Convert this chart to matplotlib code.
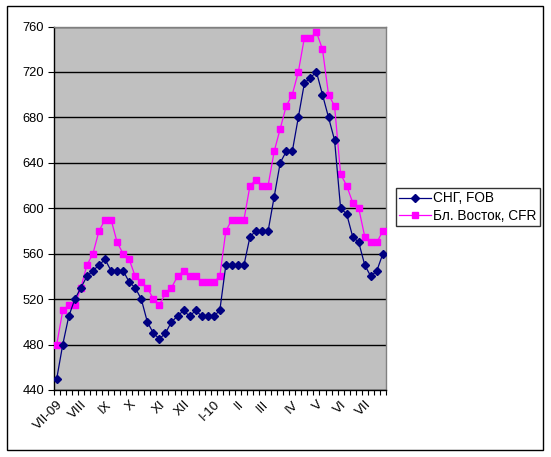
import matplotlib
matplotlib.use('Agg')
from matplotlib import pyplot as plt
from matplotlib.patches import Rectangle
from matplotlib.transforms import ScaledTranslation
import numpy as np

# weekly prices, Jul 2009 - Jul 2010
cis_fob = [450, 480, 505, 520, 530, 540, 545, 550, 555, 545, 545, 545,
           535, 530, 520, 500, 490, 485, 490, 500, 505, 510, 505, 510,
           505, 505, 505, 510, 550, 550, 550, 550, 575, 580, 580, 580,
           610, 640, 650, 650, 680, 710, 715, 720, 700, 680, 660, 600,
           595, 575, 570, 550, 540, 545, 560]
me_cfr = [480, 510, 515, 515, 530, 550, 560, 580, 590, 590, 570, 560,
          555, 540, 535, 530, 520, 515, 525, 530, 540, 545, 540, 540,
          535, 535, 535, 540, 580, 590, 590, 590, 620, 625, 620, 620,
          650, 670, 690, 700, 720, 750, 750, 755, 740, 700, 690, 630,
          620, 605, 600, 575, 570, 570, 580]
month_pos = [0, 4, 8, 12, 17, 21, 26, 30, 34, 39, 43, 47, 51]
month_labels = ['VII-09', 'VIII', 'IX', 'X', 'XI', 'XII', 'I-10',
                'II', 'III', 'IV', 'V', 'VI', 'VII']

plt.rcParams['font.family'] = ['Liberation Sans', 'DejaVu Sans']

fig = plt.figure(figsize=(5.51, 4.57), dpi=100)
fig.patches.append(Rectangle((6.5 / 551, 1 - 449.5 / 457), 536 / 551, 443.5 / 457,
                             transform=fig.transFigure, fill=False,
                             edgecolor='black', linewidth=1.0))

ax = fig.add_axes([53.7 / 551, 1 - 390 / 457, 332.2 / 551, 363.5 / 457])
ax.set_facecolor('#C0C0C0')

n = len(cis_fob)
x = np.arange(n)
ax.plot(x, cis_fob, color='#000080', linewidth=0.9, marker='D',
        markersize=4.2, label='СНГ, FOB', zorder=4)
ax.plot(x, me_cfr, color='#FF00FF', linewidth=0.9, marker='s',
        markersize=4.6, label='Бл. Восток, CFR', zorder=3)

ax.set_xlim(-0.5, n - 0.5)
ax.set_ylim(440, 760)
ax.set_yticks(np.arange(440, 761, 40))
ax.yaxis.grid(True, color='black', linewidth=1.0)
ax.set_axisbelow(True)

ax.set_xticks(np.arange(n + 1) - 0.5)
ax.set_xticklabels([])
ax.set_xticks(month_pos, minor=True)
ax.set_xticklabels(month_labels, minor=True, rotation=45, ha='right',
                   rotation_mode='anchor', fontsize=9.5)
shift = ScaledTranslation(-3 / 100, 0, fig.dpi_scale_trans)
for lbl in ax.get_xticklabels(minor=True):
    lbl.set_transform(lbl.get_transform() + shift)
ax.tick_params(axis='x', which='minor', length=0, pad=6)
ax.tick_params(axis='x', which='major', length=3.5, width=0.8, direction='out')
ax.tick_params(axis='y', length=4, width=0.8, labelsize=9.3, pad=3)

for side in ['top', 'right']:
    ax.spines[side].set_color('#808080')
    ax.spines[side].set_linewidth(1.0)
for side in ['left', 'bottom']:
    ax.spines[side].set_color('black')
    ax.spines[side].set_linewidth(1.0)

leg = fig.legend(loc='upper left', bbox_to_anchor=(396 / 551, 1 - 188 / 457),
                 frameon=True, fancybox=False, edgecolor='black',
                 fontsize=9.8, handlelength=2.3, borderpad=0.25,
                 labelspacing=0.25, handletextpad=0.2, borderaxespad=0)
leg.get_frame().set_linewidth(1.0)

plt.savefig('out.png', dpi=100)
